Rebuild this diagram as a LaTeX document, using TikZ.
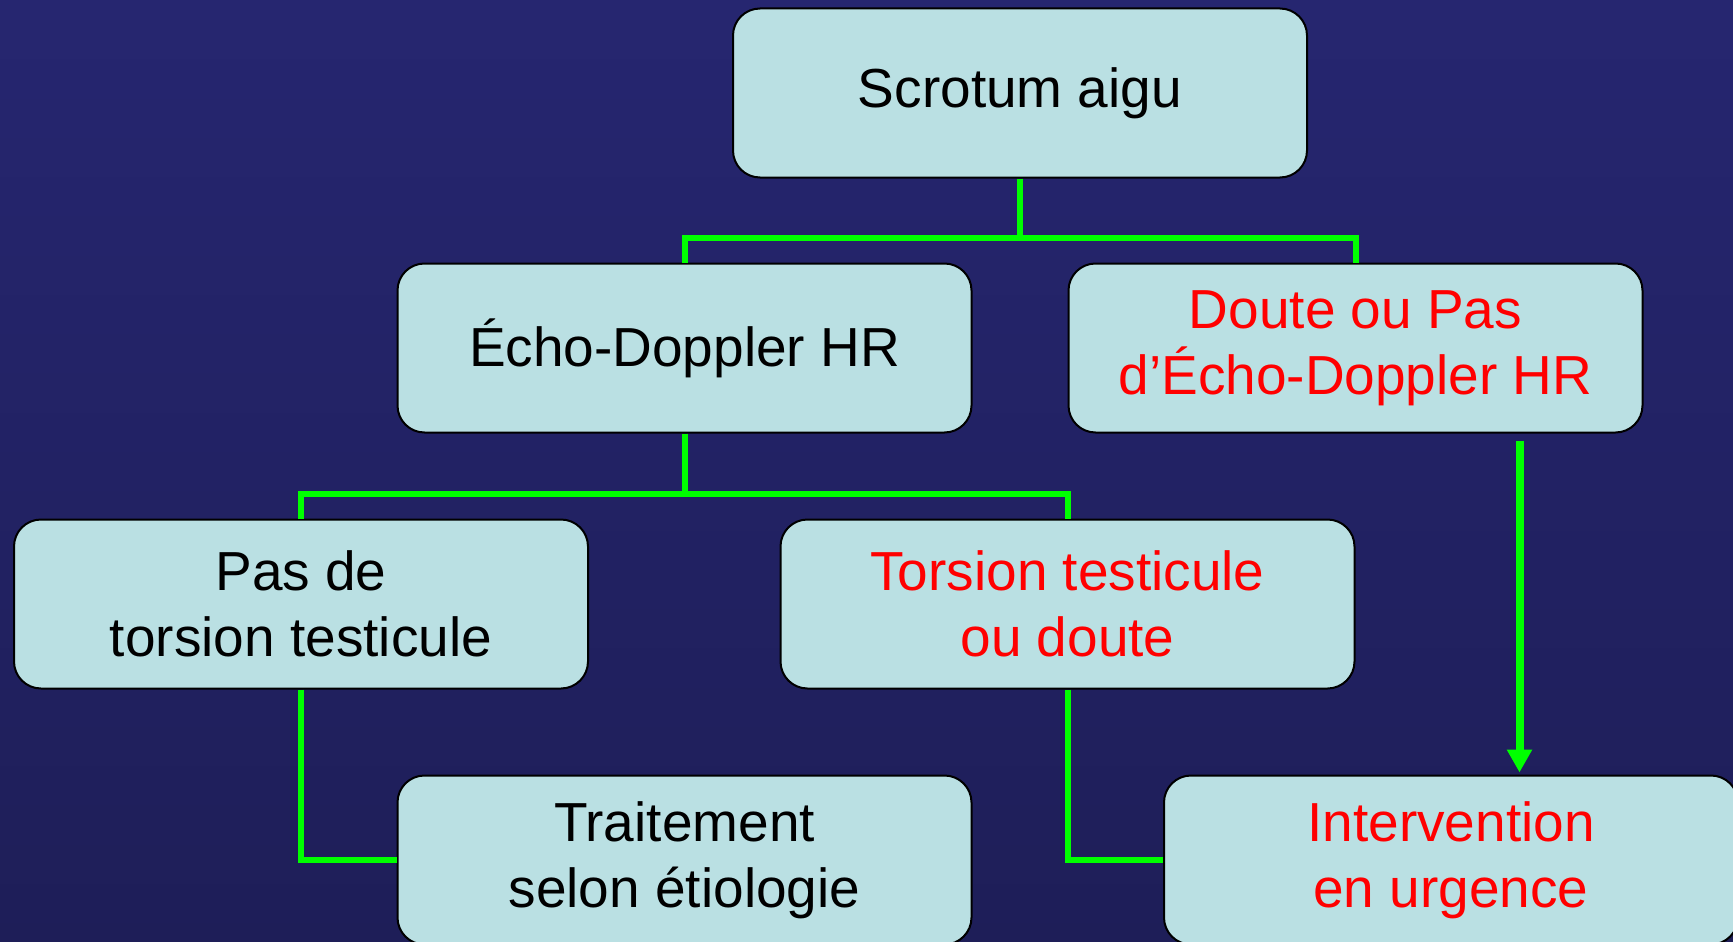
\documentclass[tikz,border=0pt]{standalone}
\usepackage{fontspec}
\setmainfont{Liberation Sans}
\usetikzlibrary{arrows.meta,calc}
\definecolor{bgtop}{RGB}{38,38,112}
\definecolor{bgmid}{RGB}{49,51,146}
\definecolor{bgbot}{RGB}{30,30,88}
\definecolor{boxfill}{RGB}{186,224,227}
\definecolor{lgreen}{RGB}{0,255,0}
\definecolor{tred}{RGB}{255,0,0}
\begin{document}
\begin{tikzpicture}[x=1pt,y=1pt,
  box/.style={draw=black, line width=2pt, fill=boxfill, rounded corners=27pt,
    minimum width=574pt, minimum height=169pt, align=center, inner sep=0pt,
    font=\fontsize{55}{66}\selectfont},
  redtext/.style={text=tred},
  conn/.style={draw=lgreen, line width=6pt},
  arr/.style={draw=lgreen, line width=8pt, -{Triangle[width=24pt,length=23pt]}}]
\useasboundingbox (0,0) rectangle (1733,-942);
\clip (0,0) rectangle (1733,-942);
\shade[top color=bgtop, middle color=bgmid, bottom color=bgbot] (0,0) rectangle (1733,-942);

% connectors (drawn first, under boxes)
\coordinate (j1) at (1020,-238);
\coordinate (j2) at (684.5,-494);

\node[box] (scrot) at (1020,-93) {Scrotum aigu};
\node[box] (echo) at (684.5,-348) {Écho-Doppler HR};
\node[box,redtext] (doute) at (1355.5,-348) {Doute ou Pas\\d’Écho-Doppler HR};
\node[box] (pasde) at (301,-604) {Pas de\\torsion testicule};
\node[box,redtext] (torsion) at (1067.5,-604) {Torsion testicule\\ou doute};
\node[box] (trait) at (684.5,-860) {Traitement\\selon étiologie};
\node[box,redtext] (interv) at (1451,-860) {Intervention\\en urgence};

\draw[conn] (scrot.south) -- (j1);
\draw[conn] (echo.north) |- (j1) -| (doute.north);
\draw[conn] (echo.south) -- (j2);
\draw[conn] (pasde.north) |- (j2) -| (torsion.north);
\draw[conn] (pasde.south) |- (trait.west);
\draw[conn] (torsion.south) |- (interv.west);

\coordinate (a1) at ([xshift=164pt,yshift=-7pt]doute.south);
\coordinate (a2) at ([yshift=2pt]a1 |- interv.north);
\draw[arr] (a1) -- (a2);
\end{tikzpicture}
\end{document}
